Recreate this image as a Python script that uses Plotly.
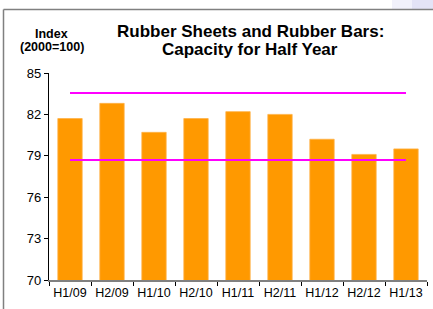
import plotly.graph_objects as go

categories = ["H1/09", "H2/09", "H1/10", "H2/10", "H1/11", "H2/11", "H1/12", "H2/12", "H1/13"]
capacity = [81.7, 82.8, 80.7, 81.7, 82.2, 82.0, 80.2, 79.1, 79.5]
upper_level = [83.55] * len(categories)
lower_level = [78.7] * len(categories)
y_ticks = [70, 73, 76, 79, 82, 85]

FONT = "Liberation Sans, Arial, sans-serif"

# pixel geometry of plot area
L, R, T, B = 49, 427, 73, 280
W, H = 433, 309


def px(x):
    return (x - L) / (R - L)


def py(y):
    return (B - y) / (B - T)


fig = go.Figure()
fig.add_trace(go.Bar(
    x=categories, y=capacity,
    marker=dict(color="#FF9900", line=dict(color="#FFB347", width=0.8)),
    width=0.58, showlegend=False,
))
fig.add_trace(go.Scatter(
    x=categories, y=upper_level, mode="lines",
    line=dict(color="#FF00FF", width=2), showlegend=False,
))
fig.add_trace(go.Scatter(
    x=categories, y=lower_level, mode="lines",
    line=dict(color="#FF00FF", width=2), showlegend=False,
))

shapes = [
    # top-right decorative gradient
    dict(type="rect", xref="paper", yref="paper", x0=px(392), x1=px(433), y0=py(9), y1=py(0),
         fillcolor="#f1f1fb", line=dict(width=0), layer="below"),
    dict(type="rect", xref="paper", yref="paper", x0=px(412), x1=px(433), y0=py(9), y1=py(0),
         fillcolor="#e3e3f6", line=dict(width=0), layer="below"),
    # frame
    dict(type="line", xref="paper", yref="paper", x0=px(3.5), x1=px(433), y0=py(9.5), y1=py(9.5),
         line=dict(color="#808080", width=1.5)),
    dict(type="line", xref="paper", yref="paper", x0=px(3.5), x1=px(3.5), y0=py(9.5), y1=py(309),
         line=dict(color="#808080", width=1.5)),
]

annotations = [
    dict(text="<b>Rubber Sheets and Rubber Bars:</b>", x=px(250), y=py(31.2), xref="paper", yref="paper",
         xanchor="center", yanchor="middle", showarrow=False, font=dict(family=FONT, size=17, color="#000")),
    dict(text="<b>Capacity for Half Year</b>", x=px(249.5), y=py(49.5), xref="paper", yref="paper",
         xanchor="center", yanchor="middle", showarrow=False, font=dict(family=FONT, size=17, color="#000")),
    dict(text="<b>Index</b>", x=px(51), y=py(34.2), xref="paper", yref="paper",
         xanchor="center", yanchor="middle", showarrow=False, font=dict(family=FONT, size=12.5, color="#000")),
    dict(text="<b>(2000=100)</b>", x=px(52), y=py(47), xref="paper", yref="paper",
         xanchor="center", yanchor="middle", showarrow=False, font=dict(family=FONT, size=12.5, color="#000")),
]

fig.update_layout(
    width=W, height=H,
    margin=dict(l=L, r=W - R, t=T, b=H - B, pad=0, autoexpand=False),
    paper_bgcolor="white", plot_bgcolor="white",
    font=dict(family=FONT, color="#000"),
    shapes=shapes, annotations=annotations,
    bargap=0.42,
)
fig.update_xaxes(
    type="category", tickson="boundaries", ticks="outside", ticklen=4, tickcolor="#000",
    showline=True, linecolor="#808080", linewidth=1.5, showgrid=False,
    tickfont=dict(family=FONT, size=12.5, color="#000"), tickangle=0, automargin=False,
    range=[-0.5, len(categories) - 0.5],
)
fig.update_yaxes(
    range=[70, 85], tickvals=y_ticks, ticktext=[str(v) for v in y_ticks],
    ticks="outside", ticklen=4, tickcolor="#000", automargin=False,
    showline=True, linecolor="#000", linewidth=1.2, showgrid=False, zeroline=False,
    tickfont=dict(family=FONT, size=13, color="#000"),
)

fig.write_html("out.html", config={"displayModeBar": False},
               post_script="document.body.style.margin='0';")
